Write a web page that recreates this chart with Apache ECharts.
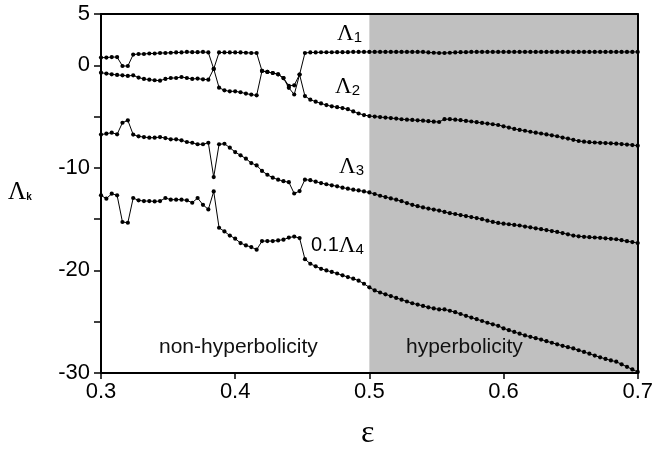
<!DOCTYPE html>
<html><head><meta charset="utf-8">
<script src="https://cdn.jsdelivr.net/npm/echarts@6/dist/echarts.min.js"></script>
<style>html,body{margin:0;padding:0;background:#fff}#c{width:656px;height:452px}</style>
</head><body><div id="c"></div>
<script>
// sampling of epsilon
const epsStart = 0.3, epsStep = 0.004; // 101 samples 0.3 .. 0.7
const hyperbolicStart = 0.5, hyperbolicEnd = 0.7;

// Lambda curves (0.1*Lambda4 for the lowest one)
const lambdaA = [0.75,0.75,0.8,0.8,-0.07,-0.07,1.04,1.1,1.1,1.15,1.15,1.2,1.2,1.22,1.25,1.25,1.3,1.28,1.28,1.3,1.25,
  -0.35,
  -2.18,-2.44,-2.54,-2.54,-2.63,-2.76,-2.86,-2.93,
  -0.55,-0.65,-0.75,-0.88,-1.25,
  -2.2,-2.85,-0.9,
  1.2,
  1.25,1.25,1.27,1.27,1.27,1.28,1.28,1.28,1.3,1.3,1.3,
  1.3,1.3,1.3,1.3,1.3,1.3,1.3,1.3,1.3,1.3,1.3,
  1.25,1.22,1.2,1.2,1.22,1.25,
  1.28,1.28,1.3,1.3,1.3,1.3,1.3,1.3,1.3,1.3,1.3,1.3,1.3,1.3,1.3,1.3,1.3,1.3,1.3,1.3,1.3,1.3,1.3,1.3,1.3,1.3,1.3,1.3,1.3,1.3,1.3,1.3,1.3,1.3];
const lambdaB = [-0.72,-0.81,-0.88,-0.94,-0.98,-1.04,-0.98,-1.2,-1.33,-1.4,-1.46,-1.5,-1.33,-1.24,-1.24,-1.14,-1.24,-1.33,-1.3,-1.37,-1.4,
  -0.35,
  1.25,1.25,1.25,1.25,1.25,1.22,1.2,1.2,
  -0.55,-0.65,-0.75,-0.88,-1.25,
  -2.0,-1.95,-0.9,
  -3.0,-3.35,-3.55,-3.72,-3.88,-4.0,-4.08,-4.17,-4.28,-4.5,-4.7,-4.85,
  -4.95,-5.0,-5.05,-5.1,-5.15,-5.2,-5.26,-5.3,-5.33,-5.37,
  -5.4,-5.45,-5.5,-5.53,-5.25,-5.25,-5.3,-5.35,-5.42,-5.48,
  -5.55,-5.62,-5.68,-5.75,-5.82,-5.95,-6.07,-6.2,-6.3,-6.38,
  -6.48,-6.57,-6.65,-6.74,-6.83,-6.92,-7.05,-7.15,-7.27,-7.38,
  -7.45,-7.5,-7.53,-7.56,-7.58,-7.61,-7.64,-7.68,-7.73,-7.78,-7.84];
const lambda3 = [-6.76,-6.67,-6.57,-6.73,-5.6,-5.37,-6.76,-6.93,-7.0,-7.06,
  -7.06,-7.0,-7.1,-7.22,-7.22,-7.32,-7.48,-7.55,-7.7,-7.7,
  -7.55,-10.9,-7.7,-7.65,-8.03,-8.46,-8.78,-9.1,-9.53,-9.76,
  -10.3,-10.67,-10.96,-11.15,-11.3,-11.4,-12.5,-12.26,-11.15,-11.2,
  -11.35,-11.48,-11.6,-11.7,-11.8,-11.93,-12.03,-12.13,-12.2,-12.3,
  -12.4,-12.55,-12.72,-12.85,-12.98,-13.1,-13.25,-13.43,-13.6,-13.74,
  -13.86,-13.97,-14.07,-14.16,-14.3,-14.42,-14.5,-14.6,-14.7,-14.8,
  -14.9,-15.0,-15.15,-15.27,-15.37,-15.44,-15.5,-15.56,-15.62,-15.72,
  -15.8,-15.9,-15.98,-16.07,-16.16,-16.25,-16.36,-16.48,-16.6,-16.68,
  -16.72,-16.76,-16.79,-16.82,-16.87,-16.92,-16.96,-17.05,-17.15,-17.24,-17.33];
const lambda4tenth = [-12.68,-13.0,-12.52,-12.68,-15.28,-15.35,-12.94,-13.17,-13.24,-13.24,
  -13.27,-13.24,-12.94,-13.1,-13.1,-13.1,-13.17,-13.4,-12.94,-13.6,
  -14.05,-12.3,-15.84,-16.2,-16.6,-16.9,-17.33,-17.56,-17.72,-17.98,
  -17.14,-17.14,-17.14,-17.07,-17.0,-16.8,-16.7,-16.85,-18.9,-19.35,
  -19.6,-19.84,-20.0,-20.15,-20.3,-20.48,-20.65,-20.8,-21.0,-21.3,
  -21.65,-21.95,-22.15,-22.33,-22.5,-22.68,-22.85,-23.03,-23.2,-23.33,
  -23.46,-23.6,-23.7,-23.8,-23.8,-23.93,-24.07,-24.25,-24.43,-24.6,
  -24.75,-24.93,-25.1,-25.25,-25.4,-25.65,-25.82,-26.0,-26.17,-26.34,
  -26.47,-26.6,-26.74,-26.9,-27.05,-27.2,-27.35,-27.48,-27.6,-27.78,
  -27.95,-28.12,-28.3,-28.47,-28.63,-28.77,-28.9,-29.15,-29.4,-29.65,-29.9];
const yLabelled = [5, 0, -10, -20, -30];

const eps = lambdaA.map((_, i) => +(epsStart + i * epsStep).toFixed(4));
const pairs = arr => arr.map((v, i) => [eps[i], v]);

const FONT = 'Liberation Sans, Arial, sans-serif';
const SERIF = 'Liberation Serif, Times New Roman, serif';

function lineSeries(name, arr) {
  return {
    name, type: 'line', data: pairs(arr), z: 3,
    symbol: 'circle', symbolSize: 4.2, showSymbol: true,
    lineStyle: { color: '#000', width: 1 },
    itemStyle: { color: '#000' },
    animation: false
  };
}

const chart = echarts.init(document.getElementById('c'), null, { renderer: 'canvas' });
const axisLineStyle = { show: true, onZero: false, lineStyle: { color: '#000', width: 2 } };
chart.setOption({
  animation: false,
  backgroundColor: '#fff',
  grid: { left: 101, right: 16, top: 14, bottom: 79 },
  xAxis: [
    {
      type: 'value', min: 0.3, max: 0.7, interval: 0.1, z: 10,
      axisLine: axisLineStyle, splitLine: { show: false },
      axisTick: { show: true, inside: false, length: 6, lineStyle: { color: '#000', width: 1.5 } },
      axisLabel: { color: '#000', fontFamily: FONT, fontSize: 22, margin: 8,
        formatter: v => v.toFixed(1) }
    },
    {
      type: 'value', position: 'top', min: 0.3, max: 0.7, z: 10,
      axisLine: axisLineStyle, splitLine: { show: false },
      axisTick: { show: false }, axisLabel: { show: false }
    }
  ],
  yAxis: [
    {
      type: 'value', min: -30, max: 5, interval: 5, z: 10,
      axisLine: axisLineStyle, splitLine: { show: false },
      axisTick: { show: true, inside: false, length: 7, lineStyle: { color: '#000', width: 1.5 } },
      axisLabel: { color: '#000', fontFamily: FONT, fontSize: 22, margin: 11,
        formatter: v => (yLabelled.indexOf(v) >= 0 ? String(v) : '') }
    },
    {
      type: 'value', position: 'right', min: -30, max: 5, z: 10,
      axisLine: axisLineStyle, splitLine: { show: false },
      axisTick: { show: false }, axisLabel: { show: false }
    }
  ],
  series: [
    {
      type: 'line', data: [], z: 1, silent: true,
      markArea: {
        silent: true,
        itemStyle: { color: '#c0c0c0' },
        data: [[{ xAxis: hyperbolicStart }, { xAxis: hyperbolicEnd }]]
      }
    },
    lineSeries('L1', lambdaA),
    lineSeries('L2', lambdaB),
    lineSeries('L3', lambda3),
    lineSeries('L4', lambda4tenth)
  ],
  graphic: [
    { type: 'text', left: 337, top: 22, z: 20, style: { text: '{L|Λ}{s|1}', rich: {
      L: { fontFamily: SERIF, fontSize: 23, fill: '#000' },
      s: { fontFamily: FONT, fontSize: 15, fill: '#000', padding: [9, 0, 0, 0] } } } },
    { type: 'text', left: 335, top: 75, z: 20, style: { text: '{L|Λ}{s|2}', rich: {
      L: { fontFamily: SERIF, fontSize: 23, fill: '#000' },
      s: { fontFamily: FONT, fontSize: 15, fill: '#000', padding: [9, 0, 0, 0] } } } },
    { type: 'text', left: 339, top: 155, z: 20, style: { text: '{L|Λ}{s|3}', rich: {
      L: { fontFamily: SERIF, fontSize: 23, fill: '#000' },
      s: { fontFamily: FONT, fontSize: 15, fill: '#000', padding: [9, 0, 0, 0] } } } },
    { type: 'text', left: 311, top: 234, z: 20, style: { text: '{n|0.1}{L|Λ}{s|4}', rich: {
      n: { fontFamily: FONT, fontSize: 20, fill: '#000' },
      L: { fontFamily: SERIF, fontSize: 23, fill: '#000' },
      s: { fontFamily: FONT, fontSize: 15, fill: '#000', padding: [9, 0, 0, 0] } } } },
    { type: 'text', left: 159, top: 337, z: 20, style: { text: 'non-hyperbolicity',
      fontFamily: FONT, fontSize: 21, fill: '#111' } },
    { type: 'text', left: 406, top: 337, z: 20, style: { text: 'hyperbolicity',
      fontFamily: FONT, fontSize: 21, fill: '#111' } },
    { type: 'text', left: 8, top: 180, z: 20, style: { text: '{L|Λ}{s|k}', rich: {
      L: { fontFamily: SERIF, fontSize: 25, fill: '#000' },
      s: { fontFamily: FONT, fontSize: 10, fontWeight: 'bold', fill: '#000', padding: [10, 0, 0, 0] } } } },
    { type: 'text', left: 361, top: 418, z: 20, style: { text: 'ε',
      fontFamily: SERIF, fontSize: 32, fill: '#000' } }
  ]
});
</script>
</body></html>
